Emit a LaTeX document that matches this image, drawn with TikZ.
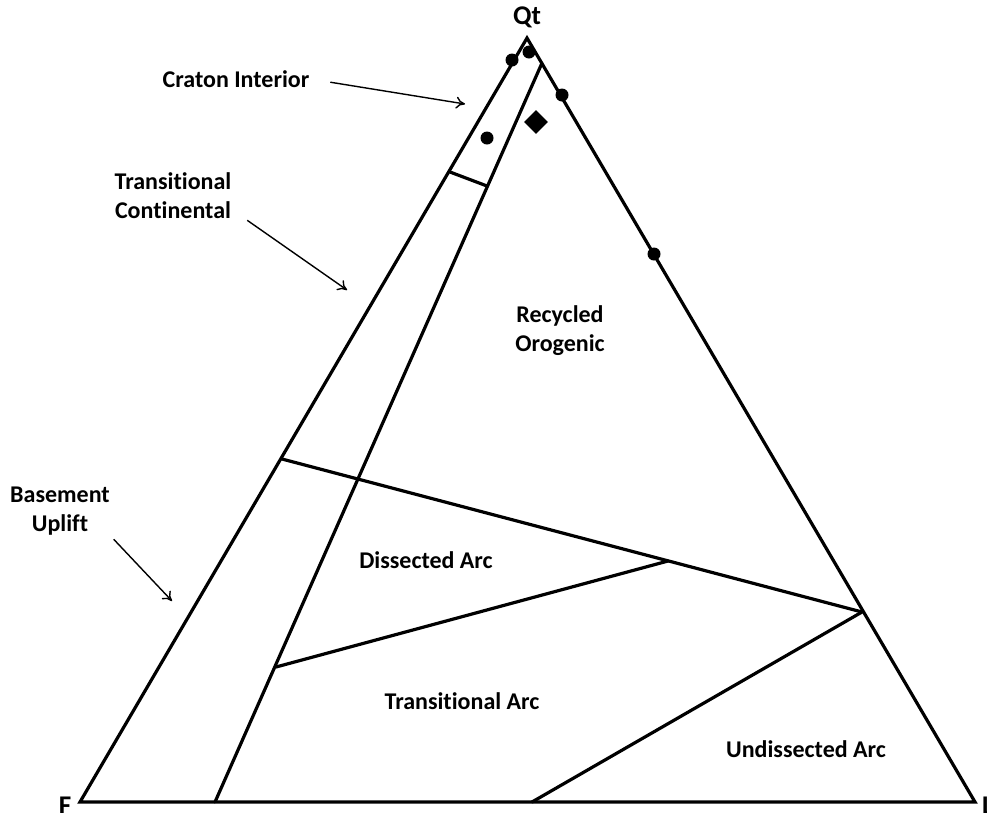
\documentclass[tikz,border=0pt]{standalone}
\usepackage{fontspec}
\setmainfont[Ligatures=CommonOff]{Carlito}
\usetikzlibrary{arrows.meta,shapes.geometric}
\tikzset{
  zone/.style={line width=3.2pt,line cap=round,line join=miter},
  lbl/.style={font=\bfseries\fontsize{24}{29}\selectfont,align=center,inner sep=1pt},
  apex/.style={font=\bfseries\fontsize{27}{30}\selectfont,inner sep=1pt},
  pointer/.style={->,>={To[length=9pt,width=12pt]},line width=1.4pt},
  sample/.style={circle,fill=black,inner sep=0pt,minimum size=13pt},
}
\begin{document}
\begin{tikzpicture}[x=1pt,y=-1pt]
\useasboundingbox (0,0) rectangle (987,812);
% corners of the Qt-F-L triangle
\coordinate (Qt) at (527,38);
\coordinate (F) at (80,802);
\coordinate (L) at (975,802);
% field boundaries
\coordinate (inTop) at (542,63);
\coordinate (inBot) at (215,802);
\coordinate (crL) at (450,172);
\coordinate (crR) at (487,186);
\coordinate (buL) at (282,459);
\coordinate (ro) at (862,612);
\coordinate (taL) at (276,667);
\coordinate (da) at (668,561);
\coordinate (uaB) at (532,802);
\draw[zone] (Qt) -- (F) -- (L) -- cycle;
\draw[zone] (inTop) -- (inBot);
\draw[zone] (crL) -- (crR);
\draw[zone] (buL) -- (ro);
\draw[zone] (taL) -- (da);
\draw[zone] (ro) -- (uaB);
% apices
\node[apex] (lQt) at (527,17) {Qt};
\node[apex] (lF) at (65,806) {F};
\node[apex,anchor=west] (lL) at (981,806) {L};
% provenance fields
\node[lbl] (craton) at (236,79) {Craton Interior};
\node[lbl] (transCont) at (173,196) {Transitional\\Continental};
\node[lbl] (basement) at (60,511) {Basement\\Uplift};
\node[lbl] (recycled) at (560,331) {Recycled\\Orogenic};
\node[lbl] (dissected) at (426,560) {Dissected Arc};
\node[lbl] (transArc) at (462,701) {Transitional Arc};
\node[lbl] (undissected) at (806,749) {Undissected Arc};
\coordinate (crTip) at (465,104);
\coordinate (tcTip) at (347,290);
\coordinate (buTip) at (172,601);
\draw[pointer,shorten <=20pt] (craton.east) -- (crTip);
\draw[pointer,shorten <=18pt] ([yshift=-14pt]transCont.east) -- (tcTip);
\draw[pointer,shorten <=4pt] (basement.south east) -- (buTip);
% samples
\node[sample] (s1) at (512,60) {};
\node[sample] (s2) at (529,52) {};
\node[sample] (s3) at (562,95) {};
\node[sample] (s4) at (654,254) {};
\node[sample] (s5) at (487,138) {};
\node[diamond,fill=black,inner sep=0pt,minimum size=24pt] (mean) at (536,122) {};
\end{tikzpicture}
\end{document}
